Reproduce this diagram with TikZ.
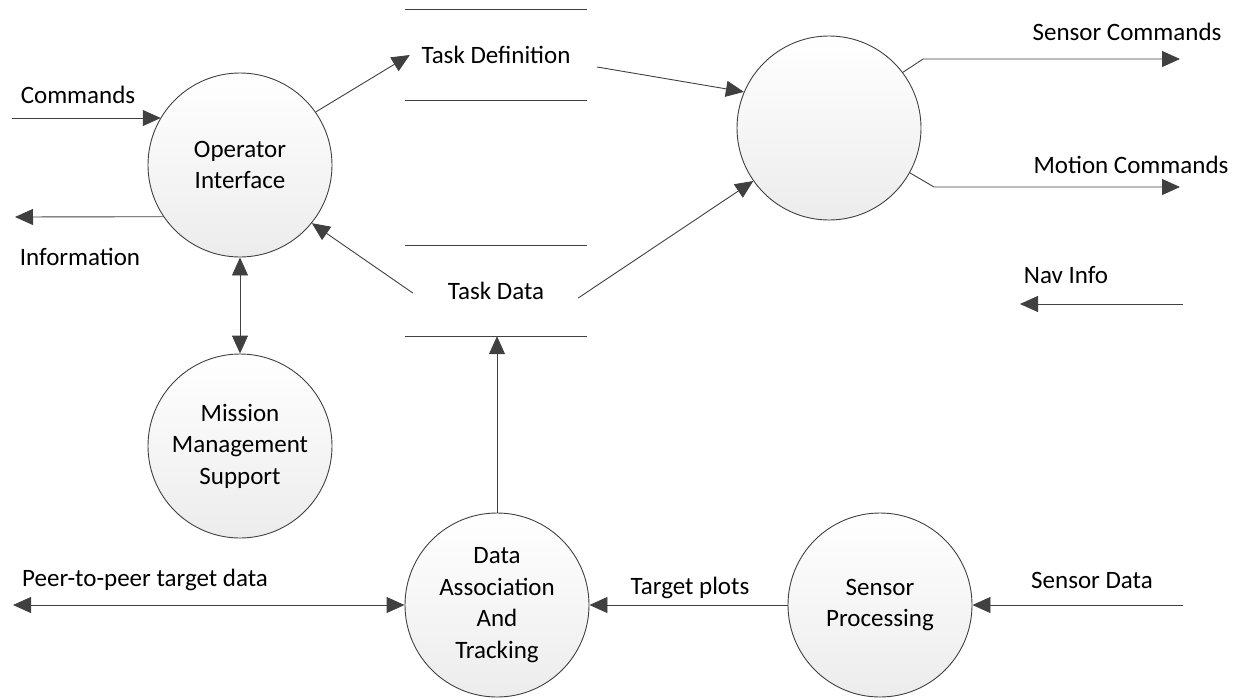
\documentclass[tikz,border=0pt]{standalone}
\usepackage{fontspec}
\setmainfont{Carlito}
\usepackage{xcolor}
\definecolor{line_gray}{RGB}{64,64,64}
\definecolor{fill_gray}{RGB}{236,236,236}
\usepackage{tikz}
\usetikzlibrary{arrows.meta}

\begin{document}
\begin{tikzpicture}[x=1pt, y=-1pt,
  font=\fontsize{25}{31.5}\selectfont,
  process/.style={circle, draw=line_gray, line width=0.9pt, minimum size=184pt, inner sep=0pt, top color=white, bottom color=fill_gray, align=center},
  store/.style={minimum width=182pt, minimum height=90pt, inner sep=0pt},
  storeline/.style={draw=line_gray, line width=0.9pt},
  flow/.style={draw=line_gray, line width=0.9pt, -{Triangle[length=18pt,width=16pt]}},
  biflow/.style={flow, {Triangle[length=18pt,width=16pt]}-{Triangle[length=18pt,width=16pt]}},
  lbl/.style={inner sep=0pt}]
\useasboundingbox (0,0) rectangle (1236,699);

\node[process] (oi) at (240,165) {Operator\\Interface};
\node[process] (mm) at (240,446) {Mission\\Management\\Support};
\node[process] (rc) at (829,128) {};
\node[process] (dat) at (497,605) {Data\\Association\\And\\Tracking};
\node[process] (sp) at (880,605) {Sensor\\Processing};

\node[store] (tdef) at (496,55) {Task Definition};
\node[store] (tdat) at (496,291) {Task Data};
\draw[storeline] (tdef.north west) -- (tdef.north east) (tdef.south west) -- (tdef.south east);
\draw[storeline] (tdat.north west) -- (tdat.north east) (tdat.south west) -- (tdat.south east);

\coordinate (cmdin) at (12,118);
\coordinate (infout) at (15,217);
\coordinate (scbend) at (923,59);
\coordinate (scout) at (1180,59);
\coordinate (mcbend) at (934,187);
\coordinate (mcout) at (1180,187);
\coordinate (navin) at (1183,304);
\coordinate (navout) at (1020,304);
\coordinate (peer) at (13,605);
\coordinate (sdin) at (1183,605);

\node[lbl] (cmdlbl) at (78,95) {Commands};
\node[lbl] (inflbl) at (80,257) {Information};
\node[lbl] (sclbl) at (1127,32) {Sensor Commands};
\node[lbl] (mclbl) at (1131,165) {Motion Commands};
\node[lbl] (navlbl) at (1066,275) {Nav Info};
\node[lbl] (peerlbl) at (145,580) {Peer-to-peer target data};
\node[lbl] (tplbl) at (690,588) {Target plots};
\node[lbl] (sdlbl) at (1092,580) {Sensor Data};

\draw[flow] (cmdin) -- (cmdin -| oi.149);
\draw[flow] (oi.214) -- (infout);
\draw[flow] (oi.35) -- ([xshift=5pt]tdef.west);
\draw[flow] ([xshift=10pt,yshift=-12pt]tdef.east) -- (rc.157);
\draw[flow] ([xshift=8pt,yshift=-2pt]tdat.west) -- (oi.-39);
\draw[flow] ([xshift=-9pt,yshift=-7pt]tdat.east) -- (rc.215);
\draw[flow] (rc.37) -- (scbend) -- (scout);
\draw[flow] (rc.-29) -- (mcbend) -- (mcout);
\draw[flow] (navin) -- (navout);
\draw[biflow] (oi.south) -- (mm.north);
\draw[flow] (dat.north) -- (dat.north |- tdat.south);
\draw[biflow] (peer) -- (dat.west);
\draw[flow] (sp.west) -- (dat.east);
\draw[flow] (sdin) -- (sp.east);

\end{tikzpicture}
\end{document}
